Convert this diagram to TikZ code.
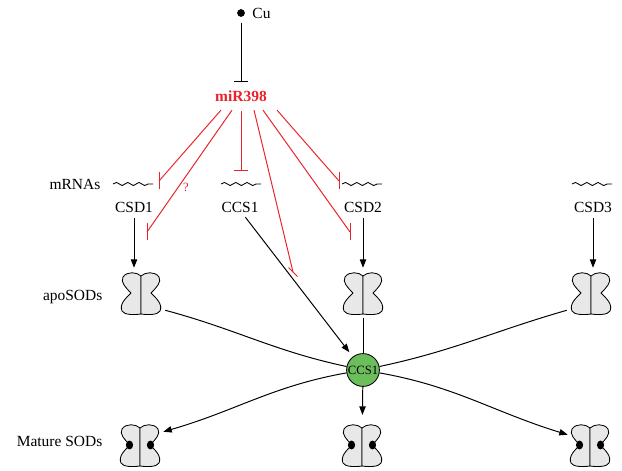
\documentclass[tikz,border=0pt]{standalone}
\usepackage{fontspec}
\setmainfont{Liberation Serif}
\usetikzlibrary{arrows.meta, positioning, decorations.pathmorphing}

\definecolor{mirred}{RGB}{232,35,42}
\definecolor{ccsgreen}{RGB}{108,190,92}

% SOD dimer: two mirrored lobed halves
\tikzset{
  sod/.pic={
    \foreach \s in {1,-1}
      \draw[fill=black!9, line width=0.6pt, line join=round, xscale=\s]
        (0,18) .. controls (-4,22) and (-14,23) .. (-18,17)
        .. controls (-21,12) and (-15,6) .. (-10,1)
        .. controls (-15,-4) and (-22,-10) .. (-19,-17)
        .. controls (-17,-21) and (-7,-21) .. (0,-20)
        -- cycle;
  },
  matsod/.pic={
    \pic {sod};
    \foreach \s in {1,-1}
      \fill[xscale=\s] (-10.5,1) ellipse [x radius=3.6, y radius=4.4];
  }
}

\begin{document}
\begin{tikzpicture}[
    x=0.025cm, y=0.025cm,
    >={Triangle[length=6pt,width=4.5pt]},
    % Plain text labels
    txt/.style={font=\fontsize{11}{13}\selectfont, inner sep=1pt},
    sideTxt/.style={txt, anchor=east},
    % Lines: black for transport, red for repression
    act/.style={draw=black, line width=0.7pt},
    repress/.style={draw=mirred, line width=0.7pt},
    wave/.style={line width=0.6pt, decorate,
        decoration={snake, amplitude=1.1pt, segment length=8pt}},
    sodbox/.style={minimum width=1cm, minimum height=1.05cm, inner sep=0pt}
]
\useasboundingbox (0,0) rectangle (622,-471);

%--- Copper and the microRNA ---
\node[circle, fill=black, inner sep=0pt, minimum size=5.5pt] (cu) at (241,-13) {};
\node[txt, right=4pt of cu] (cutxt) {Cu};
\node[txt, font=\fontsize{11}{13}\selectfont\bfseries, text=mirred] (mir) at (241,-96) {miR398};

%--- mRNAs ---
\node[sideTxt] (mrnas) at (102,-184) {mRNAs};
\coordinate (m1) at (133,-184);
\coordinate (m2) at (241,-184);
\coordinate (m3) at (362,-184);
\coordinate (m4) at (592,-184);
\foreach \m in {m1,m2,m3,m4}
  \draw[wave] (\m) ++(-20,0) -- ++(40,0);

\node[txt] (csd1) at (134,-207) {CSD1};
\node[txt] (ccs1) at (240,-207) {CCS1};
\node[txt] (csd2) at (363,-207) {CSD2};
\node[txt] (csd3) at (593,-207) {CSD3};

%--- apo enzymes ---
\node[sideTxt] (apotxt) at (104,-297) {apoSODs};
\node[sodbox] (apo1) at (141,-294) {};
\node[sodbox] (apo2) at (363,-294) {};
\node[sodbox] (apo3) at (591,-294) {};
\foreach \a in {apo1,apo2,apo3}
  \pic at (\a) {sod};

%--- Copper chaperone ---
\node[circle, draw, fill=ccsgreen, line width=0.6pt, inner sep=0pt,
      minimum size=0.82cm, font=\fontsize{9}{10}\selectfont] (ccs) at (363,-370) {CCS1};

%--- Mature enzymes ---
\node[sideTxt] (mattxt) at (104,-441) {Mature SODs};
\node[sodbox] (sod1) at (140,-446) {};
\node[sodbox] (sod2) at (362,-446) {};
\node[sodbox] (sod3) at (590,-446) {};
\foreach \a in {sod1,sod2,sod3}
  \pic at (\a) {matsod};

%-----------------------
%   Repression (red)
%-----------------------
\draw[act, -{Bar[width=10pt]}, shorten <=4pt, shorten >=5pt] (cu) -- (mir);

\coordinate (t1) at (159,-181);
\coordinate (t2) at (147,-232);
\coordinate (t3) at (241,-171);
\coordinate (t4) at (293,-272);
\coordinate (t5) at (350,-232);
\coordinate (t6) at (339,-181);

\draw[repress] ([shift={(-20,-7)}]mir.south) -- (t1);
\draw[repress] ([shift={(-9,-7)}]mir.south) -- node[pos=0.63, right=3pt, text=mirred,
  font=\fontsize{9}{10}\selectfont, inner sep=0pt] {?} (t2);
\draw[repress, -{Bar[width=10pt]}] ([shift={(0,-8)}]mir.south) -- (t3);
\draw[repress] ([shift={(13,-7)}]mir.south) -- (t4);
\draw[repress] ([shift={(22,-7)}]mir.south) -- (t5);
\draw[repress] ([shift={(36,-7)}]mir.south) -- (t6);

% end bars
\foreach \t in {t1,t2,t5,t6}
  \draw[repress] (\t) ++(0,-8.5) -- ++(0,17);
\draw[repress] (t4) ++(-4.5,4.5) -- ++(9,-9);

%-----------------------
%   Synthesis and loading
%-----------------------
\draw[act, ->, shorten <=3pt, shorten >=3.5pt] (csd1.south) -- (csd1.south |- apo1.north);
\draw[act, ->, shorten <=3pt, shorten >=3.5pt] (csd2.south) -- (csd2.south |- apo2.north);
\draw[act, ->, shorten <=3pt, shorten >=3.5pt] (csd3.south) -- (csd3.south |- apo3.north);
\draw[act, ->, shorten <=3pt, shorten >=4pt] ([xshift=2pt]ccs1.south) -- (ccs);

\draw[act] ([shift={(4,5)}]apo1.south east) to[out=-15, in=168] (ccs);
\draw[act, shorten <=2pt] (apo2) -- (ccs);
\draw[act] ([shift={(-4,5)}]apo3.south west) to[out=196, in=12] (ccs);

\draw[act, ->] (ccs) to[out=190, in=16] ([shift={(3,-7)}]sod1.north east);
\draw[act, ->, shorten >=7pt] (ccs) -- (sod2);
\draw[act, ->] (ccs) to[out=-10, in=163] ([shift={(-2,-10)}]sod3.north west);
\end{tikzpicture}
\end{document}
